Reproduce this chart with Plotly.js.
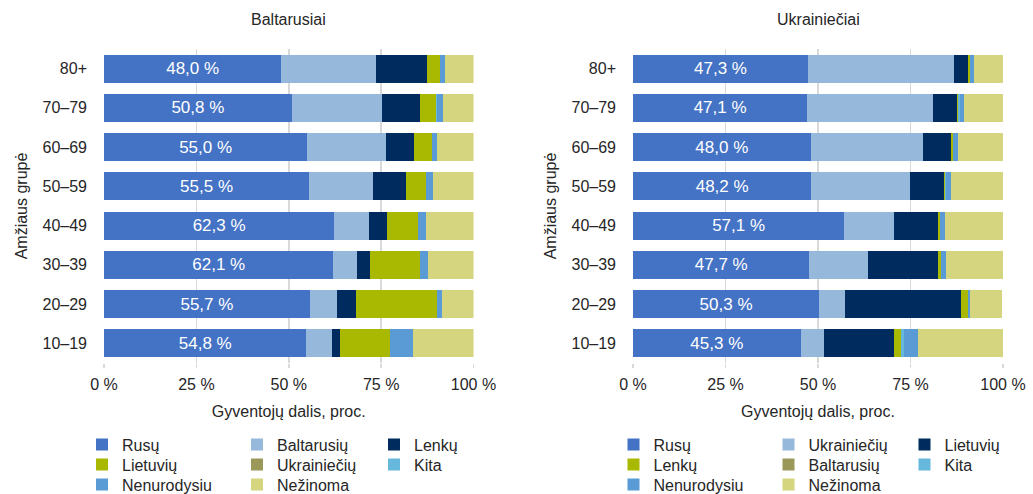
<!DOCTYPE html>
<html><head><meta charset="utf-8">
<script src="https://cdn.plot.ly/plotly-3.0.1.min.js"></script>
<style>html,body{margin:0;padding:0;background:#fff}</style>
</head><body><div id="chart" style="width:1033px;height:494px"></div>
<script>
// Age groups, bottom to top
const ageGroups = ['10–19','20–29','30–39','40–49','50–59','60–69','70–79','80+'];
const xTickVals = [0, 25, 50, 75, 100];
const xTickText = ['0 %', '25 %', '50 %', '75 %', '100 %'];

// Panel 1: Baltarusiai (values in %, same order as ageGroups)
const byRusu        = [54.8, 55.7, 62.1, 62.3, 55.5, 55.0, 50.8, 48.0];
const byBaltarusiu  = [6.9, 7.4, 6.4, 9.4, 17.3, 21.3, 24.4, 25.6];
const byLenku       = [2.2, 5.1, 3.5, 4.9, 8.9, 7.6, 10.3, 13.8];
const byLietuviu    = [13.5, 21.9, 13.5, 8.4, 5.4, 4.9, 4.3, 3.5];
const byUkrainieciu = [0, 0, 0, 0, 0, 0, 0, 0];
const byKita        = [0, 0, 0, 0, 0, 0, 0.3, 0];
const byNenurodysiu = [6.2, 1.4, 2.2, 2.1, 1.9, 1.3, 1.6, 1.4];
const byNezinoma    = [16.4, 8.5, 12.3, 12.9, 11.0, 9.9, 8.3, 7.7];

// Panel 2: Ukrainiečiai
const uaRusu        = [45.3, 50.3, 47.7, 57.1, 48.2, 48.0, 47.1, 47.3];
const uaUkrainieciu = [6.3, 7.0, 15.8, 13.4, 26.7, 30.4, 34.0, 39.5];
const uaLietuviu    = [18.9, 31.3, 18.9, 11.9, 9.2, 7.5, 6.5, 3.7];
const uaLenku       = [1.9, 1.9, 0.8, 0.6, 0.3, 0.6, 0.2, 0.6];
const uaBaltarusiu  = [0, 0, 0, 0, 0, 0, 0, 0];
const uaKita        = [0.8, 0, 0, 0, 0.2, 0, 0.5, 0];
const uaNenurodysiu = [3.8, 0.6, 1.4, 1.3, 1.3, 1.3, 1.2, 1.1];
const uaNezinoma    = [23.0, 8.7, 15.4, 15.7, 14.1, 12.2, 10.5, 7.8];

const panelTitles = ['Baltarusiai', 'Ukrainiečiai'];
const xTitle = 'Gyventojų dalis, proc.';
const yTitle = 'Amžiaus grupė';

const C = {
  rusu: '#4472C4', light: '#95B8DB', navy: '#002B5F', olive: '#A9B800',
  grey: '#9A995A', kita: '#67B8DD', nenur: '#5B9BD5', nez: '#D5D47F'
};

const panel1 = [
  ['Rusų', byRusu, C.rusu], ['Baltarusių', byBaltarusiu, C.light], ['Lenkų', byLenku, C.navy],
  ['Lietuvių', byLietuviu, C.olive], ['Ukrainiečių', byUkrainieciu, C.grey], ['Kita', byKita, C.kita],
  ['Nenurodysiu', byNenurodysiu, C.nenur], ['Nežinoma', byNezinoma, C.nez]
];
const panel2 = [
  ['Rusų', uaRusu, C.rusu], ['Ukrainiečių', uaUkrainieciu, C.light], ['Lietuvių', uaLietuviu, C.navy],
  ['Lenkų', uaLenku, C.olive], ['Baltarusių', uaBaltarusiu, C.grey], ['Kita', uaKita, C.kita],
  ['Nenurodysiu', uaNenurodysiu, C.nenur], ['Nežinoma', uaNezinoma, C.nez]
];

const FONT = 'Liberation Sans, Arial, sans-serif';
const TXT = '#262626';

// geometry (pixels)
const W = 1033, H = 494, ML = 104, MR = 30, MT = 49, MB = 131;
const PW = W - ML - MR, PH = H - MT - MB;
const px2x = p => (p - ML) / PW;
const py2y = p => (H - MB - p) / PH;

const legendCols = [[82, 237, 374], [613.5, 768.5, 904.5]];
const legendRows = [444.5, 464.5, 484.5];

const data = [];
const layout = {
  width: W, height: H,
  margin: {l: ML, r: MR, t: MT, b: MB, autoexpand: false},
  barmode: 'stack', bargap: 0.286,
  paper_bgcolor: '#fff', plot_bgcolor: '#fff',
  font: {family: FONT, size: 16, color: TXT},
  showlegend: true,
  annotations: []
};

const domains = [[0, px2x(473.5)], [px2x(633), 1]];
let legIdx = 0;
[panel1, panel2].forEach((series, p) => {
  const xa = p === 0 ? 'x' : 'x2', ya = p === 0 ? 'y' : 'y2';
  series.forEach(([name, vals, color], i) => {
    const lid = legIdx === 0 ? 'legend' : 'legend' + (legIdx + 1);
    const tr = {
      type: 'bar', orientation: 'h', name: name, x: vals, y: ageGroups,
      xaxis: xa, yaxis: ya, marker: {color: color, line: {width: 0}},
      legend: lid, hoverinfo: 'x+name'
    };
    if (i === 0) {
      tr.text = vals.map(v => v.toFixed(1).replace('.', ',') + ' %');
      tr.textposition = 'inside';
      tr.insidetextanchor = 'middle';
      tr.textfont = {color: '#ffffff', size: 17, family: FONT};
      tr.textangle = 0;
    } else {
      tr.textposition = 'none';
    }
    data.push(tr);
    const row = Math.floor(i / 3), col = i % 3;
    layout[lid] = {
      x: px2x(legendCols[p][col]), y: py2y(legendRows[row]),
      xanchor: 'left', yanchor: 'middle', orientation: 'v',
      bgcolor: 'rgba(0,0,0,0)', borderwidth: 0,
      font: {family: FONT, size: 16, color: TXT}
    };
    legIdx++;
  });
  const xk = p === 0 ? 'xaxis' : 'xaxis2', yk = p === 0 ? 'yaxis' : 'yaxis2';
  layout[xk] = {
    domain: domains[p], anchor: ya, range: [0, 100],
    tickmode: 'array', tickvals: xTickVals, ticktext: xTickText,
    showgrid: true, gridcolor: '#d9d9d9', gridwidth: 1.5, zeroline: false,
    ticks: 'outside', ticklen: 4, tickcolor: '#d9d9d9', tickwidth: 1.5,
    ticklabelstandoff: 3,
    tickfont: {family: FONT, size: 16, color: TXT},
    title: {text: xTitle, font: {family: FONT, size: 16, color: TXT}, standoff: 13},
    automargin: false, fixedrange: true
  };
  layout[yk] = {
    anchor: xa, type: 'category', categoryorder: 'array', categoryarray: ageGroups,
    range: [-0.5, 7.5], showgrid: false, zeroline: false, ticks: '',
    ticklabelstandoff: 16,
    tickfont: {family: FONT, size: 16, color: TXT},
    title: {text: yTitle, font: {family: FONT, size: 16, color: TXT}, standoff: 10},
    automargin: false, fixedrange: true
  };
  layout.annotations.push({
    text: panelTitles[p], xref: 'paper', yref: 'paper',
    x: (domains[p][0] + domains[p][1]) / 2, y: py2y(20),
    xanchor: 'center', yanchor: 'middle', showarrow: false,
    font: {family: FONT, size: 16, color: TXT}
  });
});

Plotly.newPlot('chart', data, layout, {displayModeBar: false, staticPlot: true});
</script>
</body></html>
